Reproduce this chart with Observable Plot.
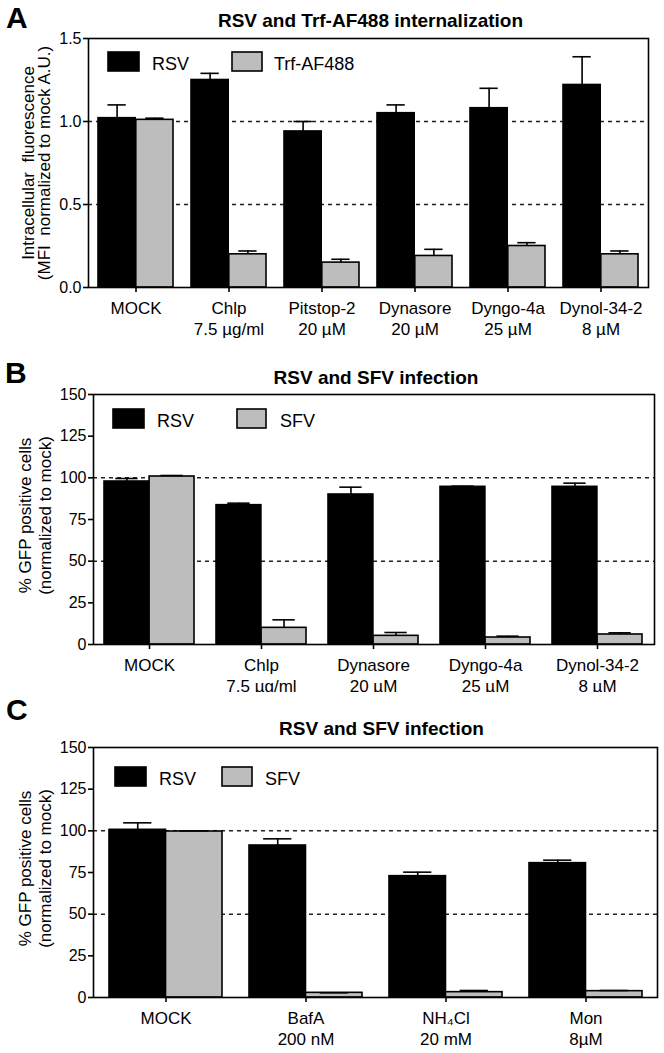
<!DOCTYPE html>
<html>
<head>
<meta charset="utf-8">
<script src="https://cdn.jsdelivr.net/npm/d3@7"></script>
<script src="https://cdn.jsdelivr.net/npm/@observablehq/plot@0.6"></script>
<style>
  html, body { margin: 0; padding: 0; background: #fff; }
  #root { position: relative; width: 664px; height: 1053px; overflow: hidden; font-family: "Liberation Sans", Arial, Helvetica, sans-serif; }
  .panel { position: absolute; left: 0; }
  #overlay { position: absolute; left: 0; top: 0; pointer-events: none; }
</style>
</head>
<body>
<div id="root"></div>
<script>
const FONT = '"Liberation Sans", Arial, Helvetica, sans-serif';
const W = 664;

// ---- Panel A: RSV and Trf-AF488 internalization ----
const catsA = ["MOCK", "Chlp", "Pitstop-2", "Dynasore", "Dyngo-4a", "Dynol-34-2"];
const doseA = ["", "7.5 µg/ml", "20 µM", "20 µM", "25 µM", "8 µM"];
const rsvA = [1.02, 1.25, 0.94, 1.05, 1.08, 1.22];
const rsvErrA = [0.08, 0.04, 0.06, 0.05, 0.12, 0.17];
const trfA = [1.01, 0.20, 0.15, 0.19, 0.25, 0.20];
const trfErrA = [0.01, 0.02, 0.02, 0.04, 0.02, 0.02];
const ticksA = [0, 0.5, 1.0, 1.5];
const gridA = [0.5, 1.0];

// ---- Panel B: RSV and SFV infection ----
const catsB = ["MOCK", "Chlp", "Dynasore", "Dyngo-4a", "Dynol-34-2"];
const doseB = ["", "7.5 µg/ml", "20 µM", "25 µM", "8 µM"];
const rsvB = [97.8, 83.6, 90.0, 94.6, 94.6];
const rsvErrB = [1.8, 1.2, 4.4, 0.4, 2.2];
const sfvB = [100.8, 10.0, 5.2, 4.2, 6.0];
const sfvErrB = [0.6, 4.8, 2.0, 0.8, 1.0];

// ---- Panel C: RSV and SFV infection ----
const catsC = ["MOCK", "BafA", "NH₄Cl", "Mon"];
const doseC = ["", "200 nM", "20 mM", "8µM"];
const rsvC = [100.6, 91.2, 72.8, 80.6];
const rsvErrC = [4.2, 4.0, 2.4, 1.8];
const sfvC = [99.6, 2.8, 3.2, 3.8];
const sfvErrC = [0.4, 0.0, 1.0, 0.4];

const ticksBC = [0, 25, 50, 75, 100, 125, 150];
const gridBC = [50, 100];

const titles = ["RSV and Trf-AF488 internalization", "RSV and SFV infection", "RSV and SFV infection"];
const letters = ["A", "B", "C"];
const legendA = ["RSV", "Trf-AF488"];
const legendBC = ["RSV", "SFV"];
const yTitleA = "Intracellular  fluorescence\n(MFI  normalized to mock A.U.)";
const yTitleBC = "% GFP positive cells\n(normalized to mock)";

const GREY = "#bdbdbd";

function panel(o) {
  const rows1 = o.cats.map((c, i) => ({cat: c, v: o.s1[i], e: o.e1[i]}));
  const rows2 = o.cats.map((c, i) => ({cat: c, v: o.s2[i], e: o.e2[i]}));
  const bw = d3.scaleBand().domain(o.cats).range([o.ml, W - o.mr])
    .paddingInner(o.pi).paddingOuter(o.po).bandwidth();
  const label = new Map(o.cats.map((c, i) => [c, o.doses[i] ? c + "\n" + o.doses[i] : c]));
  return Plot.plot({
    width: W, height: o.height,
    marginTop: o.mt, marginBottom: o.mb, marginLeft: o.ml, marginRight: o.mr,
    style: {fontFamily: FONT, fontSize: "16px", color: "black", background: "white", overflow: "visible"},
    x: {type: "band", domain: o.cats, paddingInner: o.pi, paddingOuter: o.po, label: null},
    y: {domain: o.yDomain, label: null},
    marks: [
      Plot.ruleY(o.grid, {stroke: "#222", strokeWidth: 1.5, strokeDasharray: "4,4"}),
      Plot.barY(rows1, {x: "cat", y: "v", fill: "black", stroke: "black", strokeWidth: 1.6, insetRight: bw / 2}),
      Plot.barY(rows2, {x: "cat", y: "v", fill: GREY, stroke: "black", strokeWidth: 1.6, insetLeft: bw / 2}),
      Plot.ruleX(rows1, {x: "cat", y1: "v", y2: d => d.v + d.e, dx: -bw / 4, stroke: "black", strokeWidth: 1.6}),
      Plot.tickY(rows1, {x: "cat", y: d => d.v + d.e, insetLeft: bw / 8, insetRight: bw * 5 / 8, stroke: "black", strokeWidth: 1.6}),
      Plot.ruleX(rows2, {x: "cat", y1: "v", y2: d => d.v + d.e, dx: bw / 4, stroke: "black", strokeWidth: 1.6}),
      Plot.tickY(rows2, {x: "cat", y: d => d.v + d.e, insetLeft: bw * 5 / 8, insetRight: bw / 8, stroke: "black", strokeWidth: 1.6}),
      Plot.frame({stroke: "black", strokeWidth: 1.6}),
      Plot.axisY({ticks: o.yTicks, tickFormat: o.yFmt, tickSize: 5, tickPadding: 2, fontSize: 16, label: null, strokeWidth: 1.6}),
      Plot.axisX({tickSize: 5, tickPadding: 6, tickFormat: c => label.get(c), fontSize: 17, lineHeight: 1.27, label: null, strokeWidth: 1.6}),
      Plot.text([o.ytitle], {text: d => d, frameAnchor: "left", rotate: -90, dx: o.ytDx, dy: o.ytDy,
        fontSize: o.ytSize, lineHeight: o.ytLH, textAnchor: "middle", lineAnchor: "middle", fill: "black"})
    ]
  });
}

const root = document.getElementById("root");
function place(svg, top) {
  const div = document.createElement("div");
  div.className = "panel";
  div.style.top = top + "px";
  div.appendChild(svg);
  root.appendChild(div);
}

place(panel({
  cats: catsA, doses: doseA, s1: rsvA, e1: rsvErrA, s2: trfA, e2: trfErrA,
  yDomain: [0, 1.5], yTicks: ticksA, yFmt: d3.format(".1f"), grid: gridA,
  height: 340, mt: 38, mb: 53, ml: 88, mr: 16, pi: 0.19, po: 0.095,
  ytitle: yTitleA, ytDx: -52, ytDy: 0, ytSize: 17, ytLH: 0.95
}), 0);

place(panel({
  cats: catsB, doses: doseB, s1: rsvB, e1: rsvErrB, s2: sfvB, e2: sfvErrB,
  yDomain: [0, 150], yTicks: ticksBC, yFmt: d3.format("d"), grid: gridBC,
  height: 352, mt: 54, mb: 48, ml: 93, mr: 10, pi: 0.196, po: 0.098,
  ytitle: yTitleBC, ytDx: -59, ytDy: -4, ytSize: 17, ytLH: 1.2
}), 340);

place(panel({
  cats: catsC, doses: doseC, s1: rsvC, e1: rsvErrC, s2: sfvC, e2: sfvErrC,
  yDomain: [0, 150], yTicks: ticksBC, yFmt: d3.format("d"), grid: gridBC,
  height: 361, mt: 55, mb: 56, ml: 93, mr: 7, pi: 0.193, po: 0.11,
  ytitle: yTitleBC, ytDx: -59, ytDy: -4, ytSize: 17, ytLH: 1.2
}), 692);

// Overlay: panel letters, titles, legends
const ov = d3.select(root).append("svg").attr("id", "overlay")
  .attr("width", W).attr("height", 1053)
  .style("font-family", FONT);

const letterPos = [[6, 28], [5, 383], [6, 720]];
letters.forEach((t, i) => {
  ov.append("text").attr("x", letterPos[i][0]).attr("y", letterPos[i][1])
    .attr("font-size", 30).attr("font-weight", "bold").text(t);
});
const titlePos = [[370.5, 26.5], [376, 384], [381.5, 735]];
titles.forEach((t, i) => {
  ov.append("text").attr("x", titlePos[i][0]).attr("y", titlePos[i][1])
    .attr("text-anchor", "middle").attr("font-size", 19).attr("font-weight", "bold").text(t);
});

function legend(labels, items) {
  labels.forEach((t, i) => {
    const it = items[i];
    ov.append("rect").attr("x", it.x).attr("y", it.y).attr("width", it.w).attr("height", 19)
      .attr("fill", i === 0 ? "black" : GREY).attr("stroke", "black").attr("stroke-width", 1.6);
    ov.append("text").attr("x", it.tx).attr("y", it.y + 18).attr("font-size", 18).text(t);
  });
}
legend(legendA, [{x: 108, y: 52, w: 31, tx: 152}, {x: 232, y: 52, w: 30, tx: 274}]);
legend(legendBC, [{x: 113, y: 409, w: 31, tx: 157}, {x: 237, y: 409, w: 29, tx: 280}]);
legend(legendBC, [{x: 115, y: 767, w: 31, tx: 159}, {x: 222, y: 767, w: 30, tx: 265}]);
</script>
</body>
</html>
